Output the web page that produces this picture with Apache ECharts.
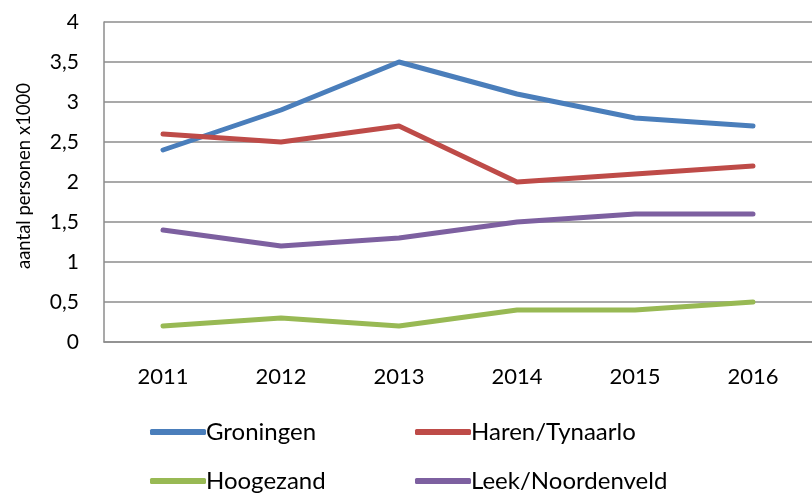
<!DOCTYPE html>
<html>
<head>
<meta charset="utf-8">
<script src="https://cdn.jsdelivr.net/npm/echarts@6/dist/echarts.min.js"></script>
<style>
  html, body { margin: 0; padding: 0; background: #fff; }
  #chart { width: 812px; height: 493px; }
</style>
</head>
<body>
<div id="chart"></div>
<script>
const years = ['2011', '2012', '2013', '2014', '2015', '2016'];
const groningen = [2.4, 2.9, 3.5, 3.1, 2.8, 2.7];
const harenTynaarlo = [2.6, 2.5, 2.7, 2.0, 2.1, 2.2];
const hoogezand = [0.2, 0.3, 0.2, 0.4, 0.4, 0.5];
const leekNoordenveld = [1.4, 1.2, 1.3, 1.5, 1.6, 1.6];

const chart = echarts.init(document.getElementById('chart'));
const font = 'Lato, "Liberation Sans", sans-serif';

function lineSeries(name, data, color) {
    return {
        name: name,
        type: 'line',
        data: data,
        showSymbol: false,
        symbol: 'none',
        color: color,
        lineStyle: { width: 5, color: color, cap: 'round', join: 'round' },
        animation: false
    };
}

function legendItem(name, left, top) {
    return {
        data: [name],
        left: left,
        top: top,
        icon: 'roundRect',
        itemWidth: 56,
        itemHeight: 6,
        itemGap: 0,
        padding: 0,
        textStyle: { fontFamily: font, fontSize: 24, color: '#000', padding: [0, 0, 0, -5] }
    };
}

const option = {
    backgroundColor: '#fff',
    grid: { left: 104, top: 22, width: 714, bottom: 151 },
    legend: [
        legendItem('Groningen', 150, 420),
        legendItem('Haren/Tynaarlo', 415, 420),
        legendItem('Hoogezand', 150, 469),
        legendItem('Leek/Noordenveld', 415, 469)
    ],
    xAxis: {
        type: 'category',
        data: years,
        boundaryGap: true,
        axisLine: { show: true, lineStyle: { color: '#8c8c8c', width: 1.5 } },
        axisTick: { show: false },
        axisLabel: { fontFamily: font, fontSize: 22, color: '#000', margin: 24 }
    },
    yAxis: {
        type: 'value',
        min: 0,
        max: 4,
        interval: 0.5,
        name: 'aantal personen x1000',
        nameLocation: 'middle',
        nameGap: 70,
        nameTextStyle: { fontFamily: font, fontSize: 18.5, color: '#000', padding: [0, 0, 0, 12] },
        axisLine: { show: true, lineStyle: { color: '#8c8c8c', width: 1.5 } },
        axisTick: { show: false },
        splitLine: { lineStyle: { color: '#8c8c8c', width: 1.5 } },
        axisLabel: {
            fontFamily: font, fontSize: 21, color: '#000', margin: 25,
            formatter: v => String(v).replace('.', ',')
        }
    },
    series: [
        lineSeries('Groningen', groningen, '#4a7ebb'),
        lineSeries('Haren/Tynaarlo', harenTynaarlo, '#be4b48'),
        lineSeries('Hoogezand', hoogezand, '#98b954'),
        lineSeries('Leek/Noordenveld', leekNoordenveld, '#7d60a0')
    ]
};

chart.setOption(option);
</script>
</body>
</html>
